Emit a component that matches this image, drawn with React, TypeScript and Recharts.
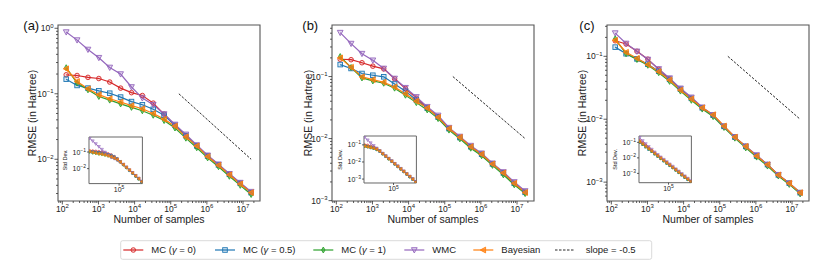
import React from 'react';
import { LineChart, Line, XAxis, YAxis, ReferenceArea } from 'recharts';

// ---------- data ----------
const SAMPLES = [128, 256, 512, 1024, 2048, 4096, 8192, 16384, 32768, 65536, 131072, 262144, 524288, 1048576, 2097152, 4194304, 8388608, 16777216];

const SERIES_KEYS = ['mc0', 'mc05', 'mc1', 'wmc', 'bayes'];
const SERIES_LABELS = ['MC (γ = 0)', 'MC (γ = 0.5)', 'MC (γ = 1)', 'WMC', 'Bayesian'];
const SLOPE_LABEL = 'slope = -0.5';
const COLORS = ['#d62728', '#1f77b4', '#2ca02c', '#9467bd', '#ff7f0e'];
const SHAPES = ['o', 's', 'd', 'v', '<'];

// panel (a) RMSE
const A_MC0 = [0.195, 0.19, 0.178, 0.171, 0.151, 0.122, 0.104, 0.094, 0.072, 0.049, 0.033, 0.023, 0.016, 0.0112, 0.0082, 0.0059, 0.0043, 0.0031];
const A_MC05 = [0.167, 0.134, 0.122, 0.111, 0.102, 0.089, 0.076, 0.068, 0.058, 0.047, 0.033, 0.023, 0.016, 0.0112, 0.0082, 0.0059, 0.0043, 0.0031];
const A_MC1 = [0.25, 0.146, 0.115, 0.091, 0.08, 0.07, 0.062, 0.055, 0.047, 0.039, 0.03, 0.021, 0.015, 0.0105, 0.0077, 0.0055, 0.004, 0.0029];
const A_WMC = [0.875, 0.66, 0.474, 0.355, 0.252, 0.2, 0.127, 0.086, 0.068, 0.049, 0.034, 0.024, 0.0165, 0.0115, 0.0084, 0.006, 0.0044, 0.0032];
const A_BAYES = [0.241, 0.154, 0.119, 0.097, 0.084, 0.075, 0.066, 0.059, 0.05, 0.041, 0.032, 0.022, 0.016, 0.011, 0.0081, 0.0058, 0.0042, 0.0031];

// panel (b) RMSE
const B_MC0 = [0.19, 0.187, 0.167, 0.147, 0.133, 0.092, 0.064, 0.045, 0.031, 0.0225, 0.0145, 0.0105, 0.0074, 0.0056, 0.0039, 0.0028, 0.0019, 0.00137];
const B_MC05 = [0.156, 0.135, 0.112, 0.105, 0.099, 0.076, 0.058, 0.042, 0.031, 0.0222, 0.0145, 0.0104, 0.0074, 0.0056, 0.0039, 0.0028, 0.0019, 0.00136];
const B_MC1 = [0.21, 0.14, 0.095, 0.085, 0.078, 0.065, 0.05, 0.038, 0.029, 0.021, 0.0137, 0.0099, 0.007, 0.0053, 0.0037, 0.0026, 0.0018, 0.0013];
const B_WMC = [0.51, 0.34, 0.234, 0.183, 0.135, 0.093, 0.066, 0.047, 0.0326, 0.0236, 0.015, 0.0108, 0.0077, 0.0058, 0.004, 0.0029, 0.002, 0.00143];
const B_BAYES = [0.2, 0.141, 0.099, 0.089, 0.081, 0.068, 0.053, 0.04, 0.031, 0.022, 0.0145, 0.0105, 0.0074, 0.0056, 0.0039, 0.0028, 0.0019, 0.00135];

// panel (c) RMSE
const C_MC0 = [0.177, 0.157, 0.12, 0.09, 0.062, 0.044, 0.03, 0.0215, 0.0152, 0.0116, 0.0077, 0.0052, 0.0037, 0.0026, 0.0019, 0.0013, 0.00096, 0.00068];
const C_MC05 = [0.14, 0.11, 0.091, 0.075, 0.058, 0.043, 0.03, 0.0215, 0.0152, 0.0116, 0.0077, 0.0052, 0.0037, 0.0026, 0.0019, 0.0013, 0.00096, 0.00068];
const C_MC1 = [0.19, 0.11, 0.089, 0.072, 0.055, 0.04, 0.028, 0.02, 0.0145, 0.011, 0.0074, 0.005, 0.0035, 0.0025, 0.0018, 0.00125, 0.00092, 0.00065];
const C_WMC = [0.234, 0.16, 0.12, 0.089, 0.063, 0.045, 0.031, 0.0223, 0.0155, 0.0117, 0.0077, 0.0052, 0.0037, 0.0027, 0.0019, 0.00131, 0.00096, 0.00068];
const C_BAYES = [0.18, 0.116, 0.093, 0.074, 0.057, 0.042, 0.029, 0.021, 0.0152, 0.0118, 0.0078, 0.0052, 0.0037, 0.0026, 0.0019, 0.0013, 0.00096, 0.00068];

// insets: standard deviation
const AI_MC0 = [0.117, 0.117, 0.112, 0.107, 0.1, 0.089, 0.079, 0.068, 0.054, 0.04, 0.0257, 0.0174, 0.0118, 0.008, 0.0054, 0.0037, 0.0025, 0.00165];
const AI_MC05 = [0.107, 0.1, 0.095, 0.091, 0.085, 0.079, 0.071, 0.063, 0.05, 0.038, 0.0262, 0.0178, 0.012, 0.0081, 0.0055, 0.0037, 0.0025, 0.00166];
const AI_MC1 = [0.1, 0.089, 0.083, 0.076, 0.071, 0.065, 0.058, 0.05, 0.042, 0.033, 0.0245, 0.0168, 0.0114, 0.0077, 0.0052, 0.0035, 0.0024, 0.0016];
const AI_WMC = [0.668, 0.457, 0.309, 0.209, 0.141, 0.0955, 0.0646, 0.0468, 0.04, 0.032, 0.0251, 0.0178, 0.0121, 0.0082, 0.0056, 0.0038, 0.0026, 0.00172];
const AI_BAYES = [0.11, 0.095, 0.087, 0.079, 0.074, 0.068, 0.06, 0.052, 0.044, 0.035, 0.0255, 0.0175, 0.0119, 0.0081, 0.0055, 0.0037, 0.0025, 0.00166];

const BI_MC0 = [0.1, 0.095, 0.085, 0.074, 0.06, 0.044, 0.031, 0.022, 0.0158, 0.0112, 0.0079, 0.0056, 0.004, 0.0028, 0.002, 0.0014, 0.001, 0.00069];
const BI_MC05 = [0.087, 0.08, 0.073, 0.066, 0.056, 0.0437, 0.0309, 0.0219, 0.0158, 0.0112, 0.0079, 0.0056, 0.004, 0.0028, 0.002, 0.0014, 0.001, 0.00069];
const BI_MC1 = [0.083, 0.076, 0.069, 0.062, 0.053, 0.042, 0.0295, 0.021, 0.015, 0.0107, 0.0075, 0.0053, 0.0038, 0.0027, 0.0019, 0.00134, 0.00095, 0.00066];
const BI_WMC = [0.282, 0.19, 0.129, 0.089, 0.063, 0.045, 0.0315, 0.0223, 0.016, 0.0114, 0.008, 0.0057, 0.0041, 0.0029, 0.002, 0.00143, 0.00102, 0.0007];
const BI_BAYES = [0.085, 0.078, 0.071, 0.064, 0.055, 0.043, 0.0303, 0.0215, 0.0155, 0.011, 0.0078, 0.0055, 0.0039, 0.0028, 0.002, 0.0014, 0.00098, 0.00068];

const CI_MC0 = [0.13, 0.095, 0.065, 0.045, 0.031, 0.021, 0.0145, 0.0101, 0.0071, 0.005, 0.0035, 0.0025, 0.00175, 0.00123, 0.00086, 0.0006, 0.00043, 0.0003];
const CI_MC05 = [0.1, 0.073, 0.052, 0.037, 0.026, 0.0185, 0.0132, 0.0093, 0.0066, 0.0047, 0.0033, 0.0024, 0.0017, 0.0012, 0.00082, 0.00058, 0.00041, 0.00029];
const CI_MC1 = [0.105, 0.074, 0.052, 0.037, 0.026, 0.018, 0.0128, 0.009, 0.0064, 0.0045, 0.0032, 0.0023, 0.0016, 0.00113, 0.0008, 0.00056, 0.0004, 0.00028];
const CI_WMC = [0.2, 0.125, 0.08, 0.052, 0.035, 0.023, 0.016, 0.011, 0.0078, 0.0055, 0.0039, 0.0028, 0.0019, 0.00135, 0.00095, 0.00067, 0.00047, 0.00033];
const CI_BAYES = [0.11, 0.078, 0.055, 0.039, 0.0275, 0.019, 0.0135, 0.0095, 0.0068, 0.0048, 0.0034, 0.0024, 0.0017, 0.0012, 0.00083, 0.00059, 0.00042, 0.0003];

// reference slope line (-0.5)
const SLOPE_N = [167772, 16777216];
const SLOPE_V = [0.1, 0.01];

// tick label exponents
const X_MAJOR_EXP = [2, 3, 4, 5, 6, 7];
const INSET_X_LABELS = [1e5];

// ---------- helpers ----------
const FONT = '"Liberation Sans", Arial, Helvetica, sans-serif';
const XDOMAIN: [number, number] = [Math.pow(10, 1.88), Math.pow(10, 7.47)];
const INSET_XDOMAIN: [number, number] = [110, 1.95e7];

function buildRows(arrs: number[][]) {
  return SAMPLES.map((n, i) => {
    const r: any = { n };
    SERIES_KEYS.forEach((k, j) => { r[k] = arrs[j][i]; });
    return r;
  });
}
const SLOPE_ROWS = SLOPE_N.map((n, i) => ({ n, s: SLOPE_V[i] }));

function logTicks(lo: number, hi: number, minor: boolean) {
  const out: number[] = [];
  for (let d = Math.floor(Math.log10(lo)); d <= Math.ceil(Math.log10(hi)); d++) {
    for (let m = 1; m <= 9; m++) {
      if (!minor && m > 1) break;
      const v = m * Math.pow(10, d);
      if (v >= lo * (1 - 1e-9) && v <= hi * (1 + 1e-9)) out.push(v);
    }
  }
  return out;
}
function isMajor(v: number) {
  const l = Math.log10(v);
  return Math.abs(l - Math.round(l)) < 1e-6;
}
function expText(v: number) {
  const e = Math.round(Math.log10(v));
  return e < 0 ? '\u2212' + String(-e) : String(e);
}

function marker(shape: string, color: string, cx: number, cy: number, s: number, key: string, sw: number) {
  if (cx == null || cy == null || isNaN(cx) || isNaN(cy)) return <g key={key} />;
  switch (shape) {
    case 'o':
      return <circle key={key} cx={cx} cy={cy} r={s} fill={color} fillOpacity={0.18} stroke={color} strokeWidth={sw} />;
    case 's':
      return <rect key={key} x={cx - s} y={cy - s} width={2 * s} height={2 * s} fill={color} fillOpacity={0.18} stroke={color} strokeWidth={sw} />;
    case 'd':
      return <polygon key={key} points={`${cx},${cy - s * 1.3} ${cx + s * 0.75},${cy} ${cx},${cy + s * 1.3} ${cx - s * 0.75},${cy}`} fill={color} fillOpacity={0.55} stroke={color} strokeWidth={sw} />;
    case 'v':
      return <polygon key={key} points={`${cx - s * 1.25},${cy - s} ${cx + s * 1.25},${cy - s} ${cx},${cy + s * 1.3}`} fill={color} fillOpacity={0.25} stroke={color} strokeWidth={sw} />;
    case '<':
    default:
      return <polygon key={key} points={`${cx - s * 1.3},${cy} ${cx + s},${cy - s * 1.25} ${cx + s},${cy + s * 1.25}`} fill={color} fillOpacity={0.7} stroke={color} strokeWidth={sw} />;
  }
}

function makeXTick(fs: number, sfs: number, maj: number, min: number, labels: number[] | null, lift: number) {
  return (p: any) => {
    const { x, y, payload } = p;
    const v = payload.value;
    const major = isMajor(v);
    const len = major ? maj : min;
    const show = major && (!labels || labels.some((l) => Math.abs(l - v) / v < 1e-6));
    return (
      <g>
        <line x1={x} y1={y} x2={x} y2={y + len} stroke="#333" strokeWidth={0.8} />
        {show ? (
          <text x={x} y={y + len + fs - lift} textAnchor="middle" fontSize={fs} fill="#222" fontFamily={FONT}>
            10<tspan dy={-fs * 0.42} fontSize={sfs}>{expText(v)}</tspan>
          </text>
        ) : null}
      </g>
    );
  };
}
function makeYTick(fs: number, sfs: number, maj: number, min: number) {
  return (p: any) => {
    const { x, y, payload } = p;
    const v = payload.value;
    const major = isMajor(v);
    const len = major ? maj : min;
    return (
      <g>
        <line x1={x - len} y1={y} x2={x} y2={y} stroke="#333" strokeWidth={0.8} />
        {major ? (
          <text x={x - len - 1} y={y + fs * 0.36} textAnchor="end" fontSize={fs} fill="#222" fontFamily={FONT}>
            10<tspan dy={-fs * 0.42} fontSize={sfs}>{expText(v)}</tspan>
          </text>
        ) : null}
      </g>
    );
  };
}

// ---------- panel configs ----------
const PANELS = [
  {
    id: '(a)', labelX: 23.3, yLabelX: 31.7,
    box: { left: 58, top: 25, w: 202, h: 176 },
    yd: [Math.pow(10, -2.637), Math.pow(10, 0.05)] as [number, number],
    rows: buildRows([A_MC0, A_MC05, A_MC1, A_WMC, A_BAYES]),
    inset: {
      left: 89.3, top: 136.7, w: 53.4, h: 46.6,
      yd: [Math.pow(10, -2.9), Math.pow(10, -0.096)] as [number, number],
      rows: buildRows([AI_MC0, AI_MC05, AI_MC1, AI_WMC, AI_BAYES]),
    },
  },
  {
    id: '(b)', labelX: 302.3, yLabelX: 307.7,
    box: { left: 332, top: 25, w: 202, h: 176 },
    yd: [Math.pow(10, -3.006), Math.pow(10, -0.169)] as [number, number],
    rows: buildRows([B_MC0, B_MC05, B_MC1, B_WMC, B_BAYES]),
    inset: {
      left: 364.3, top: 136, w: 52.4, h: 47,
      yd: [Math.pow(10, -3.23), Math.pow(10, -0.48)] as [number, number],
      rows: buildRows([BI_MC0, BI_MC05, BI_MC1, BI_WMC, BI_BAYES]),
    },
  },
  {
    id: '(c)', labelX: 579.3, yLabelX: 581.7,
    box: { left: 607, top: 25, w: 202, h: 176 },
    yd: [Math.pow(10, -3.3), Math.pow(10, -0.502)] as [number, number],
    rows: buildRows([C_MC0, C_MC05, C_MC1, C_WMC, C_BAYES]),
    inset: {
      left: 639.3, top: 136, w: 52.4, h: 46.7,
      yd: [Math.pow(10, -3.6), Math.pow(10, -0.59)] as [number, number],
      rows: buildRows([CI_MC0, CI_MC05, CI_MC1, CI_WMC, CI_BAYES]),
    },
  },
];

const MAIN_XTICKS = logTicks(XDOMAIN[0], XDOMAIN[1], true).filter((v) => !isMajor(v) || X_MAJOR_EXP.includes(Math.round(Math.log10(v))));

function MainChart({ cfg }: any) {
  const YW = 40, XH = 30, MT = 10, MR = 12;
  const { box, yd, rows } = cfg;
  const yTicks = logTicks(yd[0], yd[1], true);
  return (
    <div style={{ position: 'absolute', left: box.left - YW, top: box.top - MT }}>
      <LineChart width={YW + box.w + MR} height={box.h + XH + MT} data={rows} margin={{ top: MT, right: MR, bottom: 0, left: 0 }}>
        <XAxis dataKey="n" type="number" scale="log" domain={XDOMAIN} allowDataOverflow ticks={MAIN_XTICKS} interval={0}
          tickSize={0} tickMargin={0} tickLine={false} axisLine={false} height={XH} tick={makeXTick(8.5, 6, 3.5, 2, null, 1.3)} />
        <YAxis type="number" scale="log" domain={yd} allowDataOverflow ticks={yTicks} interval={0}
          tickSize={0} tickMargin={0} tickLine={false} axisLine={false} width={YW} tick={makeYTick(8.5, 6, 3.5, 2)} />
        <ReferenceArea x1={XDOMAIN[0]} x2={XDOMAIN[1]} y1={yd[0]} y2={yd[1]} fill="none" stroke="#555" strokeWidth={1.1} ifOverflow="visible" />
        {SERIES_KEYS.map((k, j) => (
          <Line key={k} dataKey={k} stroke={COLORS[j]} strokeWidth={1.2} isAnimationActive={false} activeDot={false}
            dot={(p: any) => marker(SHAPES[j], COLORS[j], p.cx, p.cy, 2.3, `${k}-${p.index}`, 0.9)} />
        ))}
        <Line data={SLOPE_ROWS} dataKey="s" stroke="#111" strokeWidth={0.9} strokeDasharray="2.5 1.5" dot={false} activeDot={false} isAnimationActive={false} />
      </LineChart>
    </div>
  );
}

function InsetChart({ cfg }: any) {
  const YW = 24, XH = 12, MT = 4;
  const { left, top, w, h, yd, rows } = cfg;
  const yTicks = logTicks(yd[0], yd[1], false);
  return (
    <div style={{ position: 'absolute', left: left - YW, top: top - MT }}>
      <LineChart width={YW + w + 2} height={h + XH + MT} data={rows} margin={{ top: MT, right: 2, bottom: 0, left: 0 }}>
        <XAxis dataKey="n" type="number" scale="log" domain={INSET_XDOMAIN} allowDataOverflow ticks={INSET_X_LABELS} interval={0}
          tickSize={0} tickMargin={0} tickLine={false} axisLine={false} height={XH} tick={makeXTick(7, 5, 2, 1.2, INSET_X_LABELS, 0.5)} />
        <YAxis type="number" scale="log" domain={yd} allowDataOverflow ticks={yTicks} interval={0}
          tickSize={0} tickMargin={0} tickLine={false} axisLine={false} width={YW} tick={makeYTick(7, 5, 2, 1.2)} />
        <ReferenceArea x1={INSET_XDOMAIN[0]} x2={INSET_XDOMAIN[1]} y1={yd[0]} y2={yd[1]} fill="#fff" fillOpacity={1} stroke="#666" strokeWidth={1} ifOverflow="visible" />
        {SERIES_KEYS.map((k, j) => (
          <Line key={k} dataKey={k} stroke={COLORS[j]} strokeWidth={0.8} isAnimationActive={false} activeDot={false}
            dot={(p: any) => marker(SHAPES[j], COLORS[j], p.cx, p.cy, 1.2, `i${k}-${p.index}`, 0.6)} />
        ))}
      </LineChart>
    </div>
  );
}

function LegendItems() {
  const starts = [123.3, 215, 313.3, 404.3, 473.3, 555];
  const cy = 250;
  return (
    <g>
      <rect x={120.7} y={240.7} width={531} height={18.6} rx={2} fill="#fff" stroke="#d0d0d0" strokeWidth={0.8} />
      {SERIES_LABELS.map((lab, j) => {
        const x0 = starts[j];
        const parts = lab.split('γ');
        return (
          <g key={lab}>
            <line x1={x0} y1={cy} x2={x0 + 20} y2={cy} stroke={COLORS[j]} strokeWidth={1.2} />
            {marker(SHAPES[j], COLORS[j], x0 + 10, cy, 2.3, `lg${j}`, 0.9)}
            <text x={x0 + 28} y={cy + 3.4} fontSize={9.5} fill="#222" fontFamily={FONT}>
              {parts[0]}
              {parts.length > 1 ? <tspan fontStyle="italic">γ</tspan> : null}
              {parts.length > 1 ? parts[1] : null}
            </text>
          </g>
        );
      })}
      <line x1={starts[5]} y1={cy} x2={starts[5] + 20} y2={cy} stroke="#111" strokeWidth={0.9} strokeDasharray="2.5 1.5" />
      <text x={starts[5] + 30.7} y={cy + 3.4} fontSize={9.5} fill="#222" fontFamily={FONT}>{SLOPE_LABEL}</text>
    </g>
  );
}

export default function App() {
  return (
    <div style={{ position: 'absolute', left: 0, top: 0, width: 830, height: 277, background: '#fff', fontFamily: FONT, overflow: 'hidden' }}>
      {PANELS.map((p) => <MainChart key={p.id} cfg={p} />)}
      {PANELS.map((p) => <InsetChart key={p.id + 'i'} cfg={p.inset} />)}
      <svg width={830} height={277} style={{ position: 'absolute', left: 0, top: 0, pointerEvents: 'none' }}>
        {PANELS.map((p) => (
          <g key={p.id + 'lab'}>
            <text x={p.labelX} y={29.5} fontSize={13} fill="#111" fontFamily={FONT}>{p.id}</text>
            <text x={p.yLabelX} y={113} fontSize={10.5} fill="#222" fontFamily={FONT} textAnchor="middle"
              transform={`rotate(-90 ${p.yLabelX} 113)`} dominantBaseline="central">RMSE (in Hartree)</text>
            <text x={p.box.left + p.box.w / 2} y={222.5} fontSize={10.5} fill="#222" fontFamily={FONT} textAnchor="middle">Number of samples</text>
            <text x={p.inset.left - 24} y={p.inset.top + p.inset.h / 2} fontSize={5.5} fill="#222" fontFamily={FONT} textAnchor="middle"
              transform={`rotate(-90 ${p.inset.left - 24} ${p.inset.top + p.inset.h / 2})`} dominantBaseline="central">Std Dev.</text>
          </g>
        ))}
        <LegendItems />
      </svg>
    </div>
  );
}
